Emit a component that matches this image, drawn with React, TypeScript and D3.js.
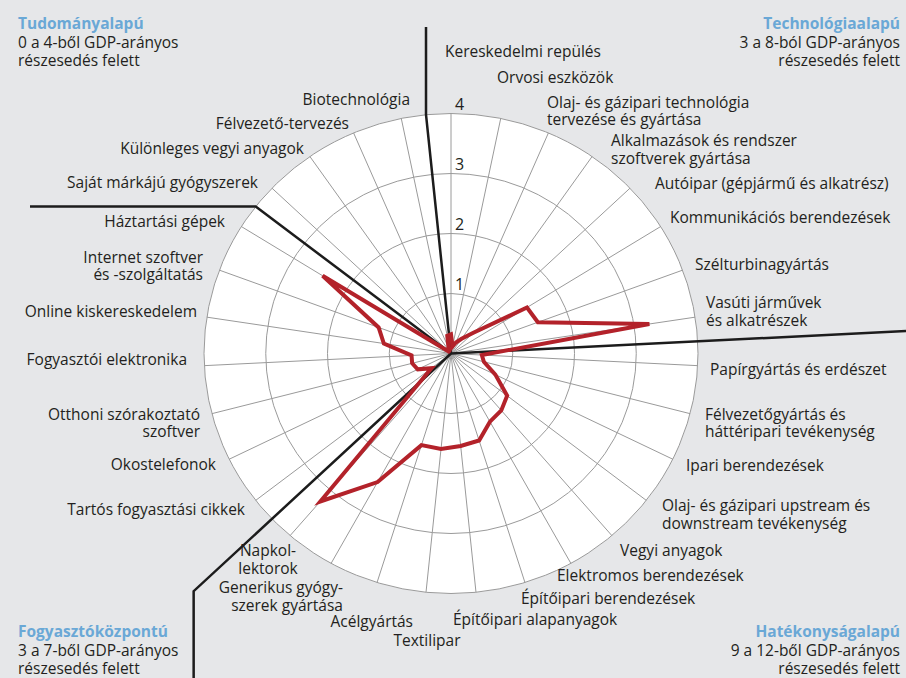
import React from "react";
import * as d3 from "d3";

// 31 industries, clockwise from the top
const industries: string[][] = [
  ["Kereskedelmi repülés"],
  ["Orvosi eszközök"],
  ["Olaj- és gázipari technológia", "tervezése és gyártása"],
  ["Alkalmazások és rendszer", "szoftverek gyártása"],
  ["Autóipar (gépjármű és alkatrész)"],
  ["Kommunikációs berendezések"],
  ["Szélturbinagyártás"],
  ["Vasúti járművek", "és alkatrészek"],
  ["Papírgyártás és erdészet"],
  ["Félvezetőgyártás és", "háttéripari tevékenység"],
  ["Ipari berendezések"],
  ["Olaj- és gázipari upstream és", "downstream tevékenység"],
  ["Vegyi anyagok"],
  ["Elektromos berendezések"],
  ["Építőipari berendezések"],
  ["Építőipari alapanyagok"],
  ["Textilipar"],
  ["Acélgyártás"],
  ["Generikus gyógy-", "szerek gyártása"],
  ["Napkol-", "lektorok"],
  ["Tartós fogyasztási cikkek"],
  ["Okostelefonok"],
  ["Otthoni szórakoztató", "szoftver"],
  ["Fogyasztói elektronika"],
  ["Online kiskereskedelem"],
  ["Internet szoftver", "és -szolgáltatás"],
  ["Háztartási gépek"],
  ["Saját márkájú gyógyszerek"],
  ["Különleges vegyi anyagok"],
  ["Félvezető-tervezés"],
  ["Biotechnológia"],
];

const shares = [
  0.32, 0.12, 0.2, 0.3, 0.5, 1.45, 1.5, 3.25,
  0.5, 0.55, 0.8, 1.15, 1.25, 1.3, 1.52, 1.55, 1.6, 1.6, 2.45, 3.25,
  0.4, 0.6, 0.65, 0.64, 1.1, 1.25, 2.45,
  0.05, 0.05, 0.1, 0.3,
];

const ringTicks = [1, 2, 3, 4];

const groupTitles = ["Tudományalapú", "Technológiaalapú", "Hatékonyságalapú", "Fogyasztóközpontú"];
const groupNotes = [
  ["0 a 4-ből GDP-arányos", "részesedés felett"],
  ["3 a 8-ból GDP-arányos", "részesedés felett"],
  ["9 a 12-ből GDP-arányos", "részesedés felett"],
  ["3 a 7-ből GDP-arányos", "részesedés felett"],
];

// where each label block sits: anchor x, vertical middle, alignment
const labelPos: [number, number, string][] = [
  [445, 52, "start"], [497, 78, "start"], [547, 111, "start"], [611, 149.5, "start"],
  [655, 184, "start"], [670, 218, "start"], [695, 265, "start"], [706, 311.5, "start"],
  [710, 370, "start"], [705, 423, "start"], [686, 466, "start"], [662, 514.5, "start"],
  [620, 551, "start"], [557, 576, "start"], [521, 599, "start"], [453, 620, "start"],
  [427, 641, "middle"], [413, 622, "end"], [343, 596.5, "end"], [268, 559.5, "middle"],
  [245, 510, "end"], [216, 465, "end"], [200, 423, "end"], [187, 360, "end"],
  [197, 312, "end"], [203, 266, "end"], [225, 222, "end"], [258, 183, "end"],
  [304, 149, "end"], [349, 124, "end"], [410, 100, "end"],
];

const W = 906;
const H = 678;
const cx = 451;
const cy = 353.5;
const FONT = "'Open Sans', Lato, sans-serif";
const TEXT = "#231f20";
const BLUE = "#6aa8d6";

const App = () => {
  const n = industries.length;
  const rx = d3.scaleLinear().domain([0, 4]).range([0, 247]);
  const ry = d3.scaleLinear().domain([0, 4]).range([0, 240]);
  const angle = d3.scaleLinear().domain([0, n]).range([0, 2 * Math.PI]);
  const pt = (i: number, v: number): [number, number] => [
    cx + rx(v) * Math.sin(angle(i)),
    cy - ry(v) * Math.cos(angle(i)),
  ];

  const line = d3.line().curve(d3.curveLinearClosed);
  const redPath = line(shares.map((v, i) => pt(i, v)));

  // group separators (between categories)
  const [tx, ty] = pt(n - 0.5, 4);
  const [lx, ly] = pt(26.5, 4);
  const [bx, by] = pt(19.5, 5.75);
  const rightAng = angle(7.5);
  const rRight = rx.invert((W - cx) / Math.sin(rightAng));
  const [qx, qy] = pt(7.5, rRight);
  const separators = [
    `M${cx},${cy}L${tx},${ty}L${tx},27`,
    `M${cx},${cy}L${lx},${ly}L30,${ly}`,
    `M${cx},${cy}L${bx},${by}L${bx},${H}`,
    `M${cx},${cy}L${qx},${qy}`,
  ];

  const lineH = 17.5;
  const corners = [
    { x: 18, y: 29, anchor: "start" },
    { x: 900, y: 29, anchor: "end" },
    { x: 900, y: 637, anchor: "end" },
    { x: 18, y: 637, anchor: "start" },
  ];

  return (
    <div style={{ position: "absolute", left: 0, top: 0 }}>
      <svg width={W} height={H} style={{ display: "block" }} fontFamily={FONT}>
        <rect width={W} height={H} fill="#e6e7e9" />
        <ellipse cx={cx} cy={cy} rx={rx(4)} ry={ry(4)} fill="#fff" stroke="#9a9a9a" strokeWidth={1} />
        {ringTicks.slice(0, -1).map((t) => (
          <ellipse key={t} cx={cx} cy={cy} rx={rx(t)} ry={ry(t)} fill="none" stroke="#9a9a9a" strokeWidth={1} />
        ))}
        {industries.map((_, i) => {
          const [x, y] = pt(i, 4);
          return <line key={i} x1={cx} y1={cy} x2={x} y2={y} stroke="#9a9a9a" strokeWidth={1} />;
        })}
        {ringTicks.map((t) => (
          <text key={t} x={cx + 4} y={cy - ry(t) - 4} fontSize={16} fill={TEXT}>
            {t}
          </text>
        ))}
        {separators.map((d, i) => (
          <path key={i} d={d} fill="none" stroke="#1c1c1c" strokeWidth={2.5} />
        ))}
        <path d={redPath || ""} fill="none" stroke="#b3222a" strokeWidth={4} strokeLinejoin="miter" strokeMiterlimit={4} />
        {industries.map((lines, i) => {
          const [x, mid, anchor] = labelPos[i];
          const top = mid - ((lines.length - 1) * lineH) / 2;
          return (
            <text key={i} fontSize={15.5} fill={TEXT} textAnchor={anchor}>
              {lines.map((s, k) => (
                <tspan key={k} x={x} y={top + k * lineH} dy="0.35em">
                  {s}
                </tspan>
              ))}
            </text>
          );
        })}
        {corners.map((c, i) => (
          <text key={i} fontSize={15.5} textAnchor={c.anchor}>
            <tspan x={c.x} y={c.y} fill={BLUE} fontWeight="bold">
              {groupTitles[i]}
            </tspan>
            {groupNotes[i].map((s, k) => (
              <tspan key={k} x={c.x} y={c.y + (k + 1) * 18.5} fill={TEXT}>
                {s}
              </tspan>
            ))}
          </text>
        ))}
      </svg>
    </div>
  );
};

export default App;
